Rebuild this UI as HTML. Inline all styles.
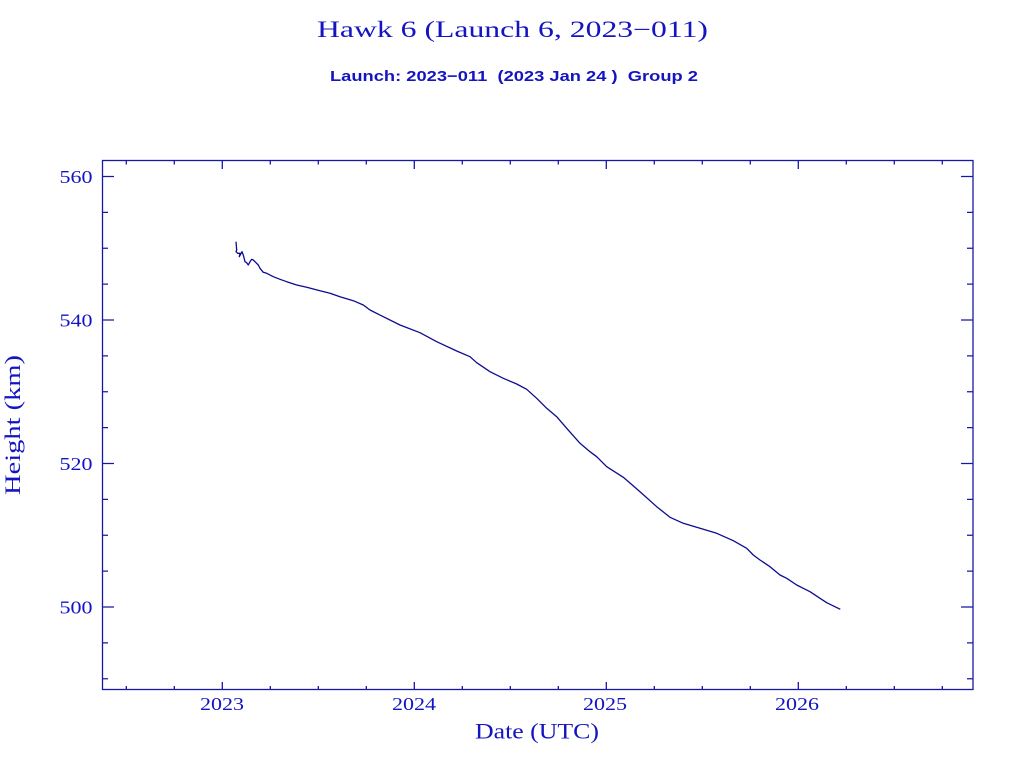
<!DOCTYPE html>
<html>
<head>
<meta charset="utf-8">
<style>
html,body{margin:0;padding:0;background:#fff;}
svg{display:block;}
.pre{white-space:pre;}
</style>
</head>
<body>
<svg width="1024" height="768" viewBox="0 0 1024 768" xmlns="http://www.w3.org/2000/svg">
<rect x="0" y="0" width="1024" height="768" fill="#ffffff"/>
<!-- Titles -->
<text x="317" y="37" font-family="Liberation Serif, serif" font-size="23" fill="#1414c0" textLength="391" lengthAdjust="spacingAndGlyphs">Hawk 6 (Launch 6, 2023−011)</text>
<text class="pre" xml:space="preserve" x="330" y="81" font-family="Liberation Sans, sans-serif" font-size="15" font-weight="bold" fill="#1414c0" textLength="368" lengthAdjust="spacingAndGlyphs">Launch: 2023−011  (2023 Jan 24 )  Group 2</text>

<!-- Frame -->
<rect x="102.5" y="160.5" width="870.5" height="529" fill="none" stroke="#1818a8" stroke-width="1.3"/>

<g stroke="#1818a8" stroke-width="1.3" fill="none">
<!-- Y major ticks -->
<path d="M102 176.5h12M102 320h12M102 463.5h12M102 607h12M973 176.5h-12M973 320h-12M973 463.5h-12M973 607h-12"/>
<!-- Y minor ticks -->
<path d="M102 678.75h6M102 642.9h6M102 571.1h6M102 535.25h6M102 499.4h6M102 427.6h6M102 391.75h6M102 355.9h6M102 284.1h6M102 248.25h6M102 212.4h6
M973 678.75h-6M973 642.9h-6M973 571.1h-6M973 535.25h-6M973 499.4h-6M973 427.6h-6M973 391.75h-6M973 355.9h-6M973 284.1h-6M973 248.25h-6M973 212.4h-6"/>
<!-- X major ticks -->
<path d="M222.3 690v-8M414.3 690v-8M606.3 690v-8M798.3 690v-8M222.3 160v9M414.3 160v9M606.3 160v9M798.3 160v9"/>
<!-- X minor ticks -->
<path d="M126.3 690v-4M174.3 690v-4M270.3 690v-4M318.3 690v-4M366.3 690v-4M462.3 690v-4M510.3 690v-4M558.3 690v-4M654.3 690v-4M702.3 690v-4M750.3 690v-4M846.3 690v-4M894.3 690v-4M942.3 690v-4
M126.3 160v4.5M174.3 160v4.5M270.3 160v4.5M318.3 160v4.5M366.3 160v4.5M462.3 160v4.5M510.3 160v4.5M558.3 160v4.5M654.3 160v4.5M702.3 160v4.5M750.3 160v4.5M846.3 160v4.5M894.3 160v4.5M942.3 160v4.5"/>
</g>

<!-- Y tick labels -->
<g font-family="Liberation Serif, serif" font-size="18" fill="#1414c0" text-anchor="end">
<text x="92.5" y="183" textLength="33" lengthAdjust="spacingAndGlyphs">560</text>
<text x="92.5" y="326.5" textLength="33" lengthAdjust="spacingAndGlyphs">540</text>
<text x="92.5" y="470" textLength="33" lengthAdjust="spacingAndGlyphs">520</text>
<text x="92.5" y="613.5" textLength="33" lengthAdjust="spacingAndGlyphs">500</text>
</g>
<!-- X tick labels -->
<g font-family="Liberation Serif, serif" font-size="18" fill="#1414c0">
<text x="200" y="710" textLength="44" lengthAdjust="spacingAndGlyphs">2023</text>
<text x="392" y="710" textLength="44" lengthAdjust="spacingAndGlyphs">2024</text>
<text x="583" y="710" textLength="44" lengthAdjust="spacingAndGlyphs">2025</text>
<text x="775" y="710" textLength="44" lengthAdjust="spacingAndGlyphs">2026</text>
</g>

<!-- Axis labels -->
<text x="475" y="738.5" font-family="Liberation Serif, serif" font-size="22" fill="#1414c0" textLength="124" lengthAdjust="spacingAndGlyphs">Date (UTC)</text>
<text transform="translate(20,495) rotate(-90)" x="0" y="0" font-family="Liberation Serif, serif" font-size="22" fill="#1414c0" textLength="140" lengthAdjust="spacingAndGlyphs">Height (km)</text>

<!-- Data -->
<polyline fill="none" stroke="#0c0c90" stroke-width="1.3" stroke-linejoin="round" points="
236,241.7 236.7,250 236,251.7 237.7,253.3 240,253.3 239.3,256.7 242,251.7 243.3,255 245,261.7 246.7,262.7 248.3,265 250,261.7 251.7,259.3 253.3,260 255,261.7 258.3,265 260,268.3 263.3,272.3 266.7,273.3 273.3,276.7 280,279.3 286.7,281.7 296.7,285 306.7,287.3 320,290.7 330,293.3 340,296.7 353.3,300.7 363.3,305 370,310 383.3,316.7 400,325 420,332.7 436.7,341.7 456.7,351 470,356.7 476.7,362.7 490,371.7 503.3,378.3 516.7,384 526.7,389.3 536.7,398.3 546.7,408.3 556.7,416.7 566.7,428.3 580,443.3 590,451.7 596.7,456.7 606.7,466.7 623.3,477.3 640,491.7 656.7,506.7 670,517.3 683.3,523.3 700,528.3 716.7,533.3 733.3,540.7 746.7,548.3 753.3,555 760,560 770,566.7 780,575 786.7,578.3 796.7,585 803.3,588.3 810,591.7 820,598.3 826.7,602.7 840.3,609.3"/>
</svg>
</body>
</html>
